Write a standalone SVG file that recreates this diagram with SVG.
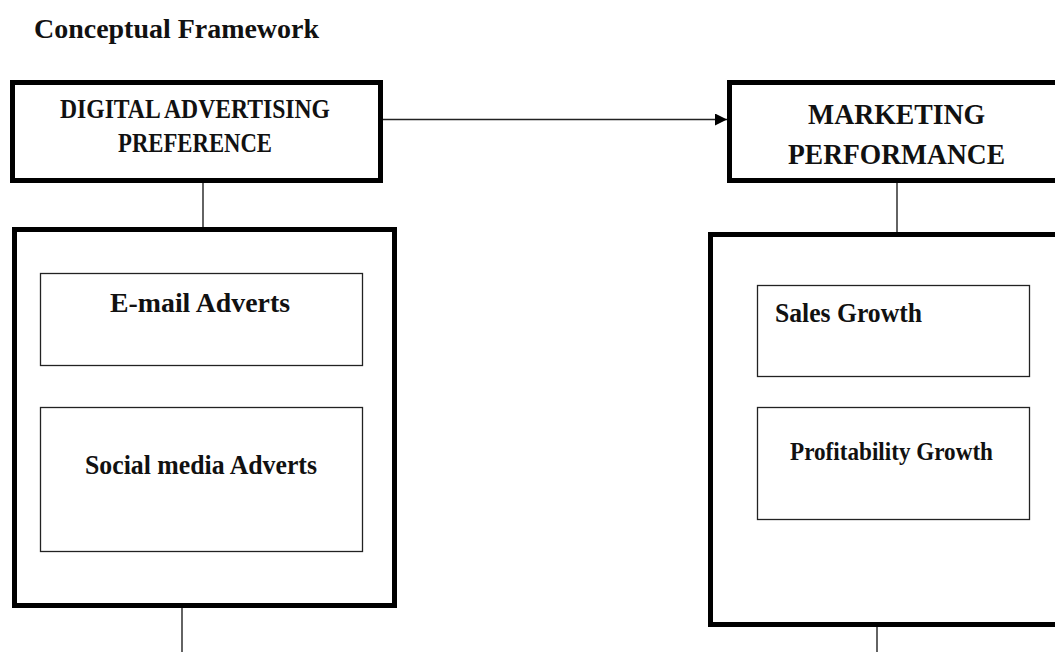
<svg xmlns="http://www.w3.org/2000/svg" width="1055" height="652" viewBox="0 0 1055 652">
<style>
text{font-family:"Liberation Serif","Times New Roman",serif;font-weight:bold;fill:#111;}
.thick{fill:none;stroke:#000;stroke-width:5;}
.thin{fill:none;stroke:#222;stroke-width:1.3;}
.conn{fill:none;stroke:#222;stroke-width:1.4;}
</style>
<defs>
<marker id="arr" viewBox="0 0 10 10" refX="10" refY="5" markerWidth="12" markerHeight="12" markerUnits="userSpaceOnUse" orient="auto">
<path d="M0,0 L10,5 L0,10 z" fill="#000"/>
</marker>
</defs>
<rect width="1055" height="652" fill="#fff"/>
<text x="34" y="37.5" font-size="28" textLength="285" lengthAdjust="spacingAndGlyphs">Conceptual Framework</text>

<g id="connectors">
<line class="conn" x1="383" y1="119.5" x2="727" y2="119.5" marker-end="url(#arr)"/>
<line class="conn" x1="203" y1="183" x2="203" y2="227"/>
<line class="conn" x1="897" y1="183" x2="897" y2="232"/>
<line class="conn" x1="182" y1="608" x2="182" y2="652"/>
<line class="conn" x1="877" y1="627" x2="877" y2="652"/>
</g>

<g id="node-dap">
<rect class="thick" x="12.5" y="82.5" width="368" height="98"/>
<text x="195" y="118" font-size="27" text-anchor="middle" textLength="270" lengthAdjust="spacingAndGlyphs">DIGITAL ADVERTISING</text>
<text x="195" y="152" font-size="27" text-anchor="middle" textLength="154" lengthAdjust="spacingAndGlyphs">PREFERENCE</text>
</g>

<g id="node-mp">
<rect class="thick" x="729.5" y="82.5" width="340" height="98"/>
<text x="896.5" y="123.5" font-size="30" text-anchor="middle" textLength="177" lengthAdjust="spacingAndGlyphs">MARKETING</text>
<text x="896.5" y="163.5" font-size="30" text-anchor="middle" textLength="217" lengthAdjust="spacingAndGlyphs">PERFORMANCE</text>
</g>

<g id="node-dap-dimensions">
<rect class="thick" x="14.5" y="229.5" width="380" height="376"/>
</g>
<g id="node-email">
<rect class="thin" x="40.5" y="273.5" width="322" height="92"/>
<text x="200" y="311.5" font-size="28" text-anchor="middle" textLength="180" lengthAdjust="spacingAndGlyphs">E-mail Adverts</text>
</g>
<g id="node-social">
<rect class="thin" x="40.5" y="407.5" width="322" height="144"/>
<text x="201" y="474" font-size="28" text-anchor="middle" textLength="232" lengthAdjust="spacingAndGlyphs">Social media Adverts</text>
</g>

<g id="node-mp-dimensions">
<rect class="thick" x="710.5" y="234.5" width="360" height="390"/>
</g>
<g id="node-sales">
<rect class="thin" x="757.5" y="285.5" width="272" height="91"/>
<text x="775" y="321.5" font-size="28" textLength="147" lengthAdjust="spacingAndGlyphs">Sales Growth</text>
</g>
<g id="node-profit">
<rect class="thin" x="757.5" y="407.5" width="272" height="112"/>
<text x="891.5" y="460" font-size="26" text-anchor="middle" textLength="203" lengthAdjust="spacingAndGlyphs">Profitability Growth</text>
</g>
</svg>
